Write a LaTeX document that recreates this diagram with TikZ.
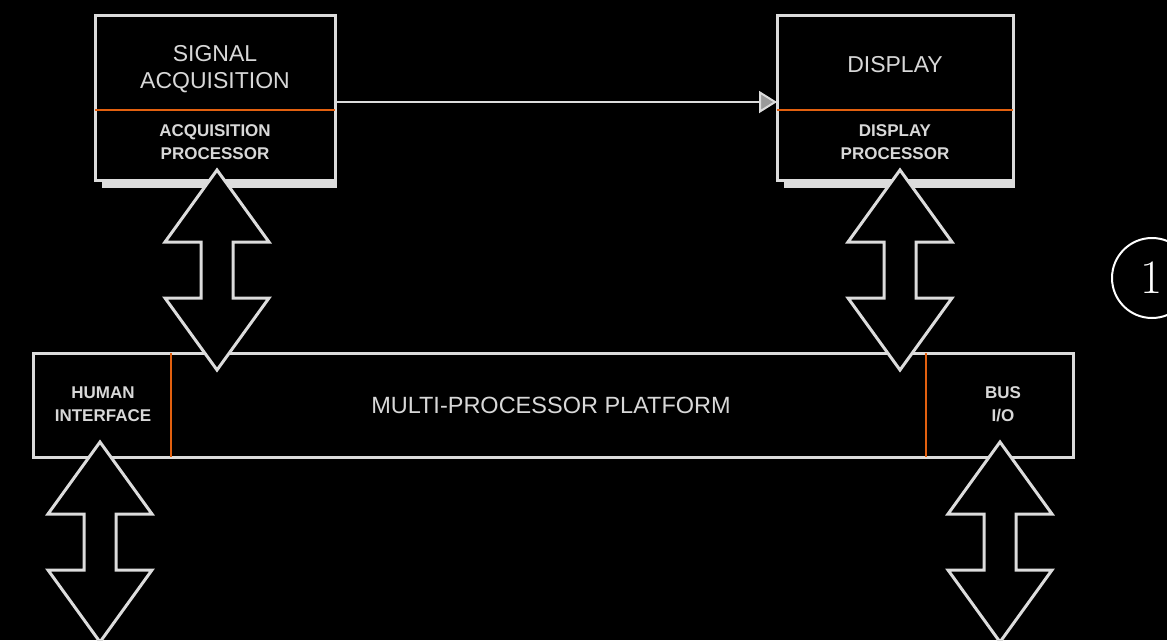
\documentclass[tikz,border=0pt]{standalone}
\usepackage{fontspec}
\newfontfamily\lab{Liberation Sans}
\usetikzlibrary{arrows.meta,calc}
\definecolor{ln}{HTML}{DCDCDC}
\definecolor{tx}{HTML}{D8D8D8}
\definecolor{org}{HTML}{E2600F}
\begin{document}
\begin{tikzpicture}[x=1pt,y=-1pt,
  box/.style={draw=ln, line width=3pt, outer sep=0pt, inner sep=0pt, fill=black},
  big/.style={text=tx, font=\lab\fontsize{23}{27}\selectfont, align=center, inner sep=0pt},
  small/.style={text=tx, font=\lab\bfseries\fontsize{17}{22.5}\selectfont, align=center, inner sep=0pt},
  sepline/.style={draw=org, line width=2.5pt},
  conn/.style={draw=ln, line width=2pt, -{Triangle[length=18pt,width=22pt,fill=ln!70!black]}},
  dblarr/.pic={\draw[ln, fill=black, line width=3pt, line join=miter]
     (0,0) -- (52,72) -- (16,72) -- (16,128) -- (52,128) -- (0,200)
     -- (-52,128) -- (-16,128) -- (-16,72) -- (-52,72) -- cycle;},
]
\fill[black] (0,0) rectangle (1167,640);
\useasboundingbox (0,0) rectangle (1167,640);

% top boxes
\node[box, minimum width=240pt, minimum height=165pt] (sig) at (215,97.5) {};
\fill[ln] ([xshift=7pt]sig.south west) rectangle ([shift={(1.5pt,-8pt)}]sig.south east);
\node[box, minimum width=236pt, minimum height=165pt] (disp) at (895,97.5) {};
\fill[ln] ([xshift=7pt]disp.south west) rectangle ([shift={(1.5pt,-8pt)}]disp.south east);
\coordinate (sy) at (0,110);
\draw[sepline] (sig.west |- sy) -- (sig.east |- sy);
\draw[sepline] (disp.west |- sy) -- (disp.east |- sy);

\node[big] (sigt) at (215,69) {SIGNAL\\ACQUISITION};
\node[small] (sigp) at (215,142) {ACQUISITION\\PROCESSOR};
\node[big] (dispt) at (895,65) {DISPLAY};
\node[small] (dispp) at (895,142) {DISPLAY\\PROCESSOR};

\draw[conn] ([yshift=-4.5pt]sig.east) -- ([yshift=-4.5pt]disp.west);

% platform
\node[box, minimum width=1040pt, minimum height=104pt] (plat) at (553,405) {};
\coordinate (d1) at (171,0);
\coordinate (d2) at (926,0);
\draw[sepline] (plat.north -| d1) -- (plat.south -| d1);
\draw[sepline] (plat.north -| d2) -- (plat.south -| d2);
\node[text=tx, font=\lab\fontsize{23.5}{27}\selectfont, inner sep=0pt] (platt) at (551,405) {MULTI-PROCESSOR PLATFORM};
\node[small] (hum) at (103,404) {HUMAN\\INTERFACE};
\node[small] (bus) at (1003,404) {BUS\\I/O};

% double arrows
\pic at (217,170) {dblarr};
\pic at (900,170) {dblarr};
\pic at (100,442) {dblarr};
\pic at (1000,442) {dblarr};

% circled number
\node[circle, draw=white, line width=2pt, minimum size=80pt, inner sep=0pt, text=white,
      font=\fontsize{48}{48}\selectfont] (one) at (1152,278) {1};
\end{tikzpicture}
\end{document}
